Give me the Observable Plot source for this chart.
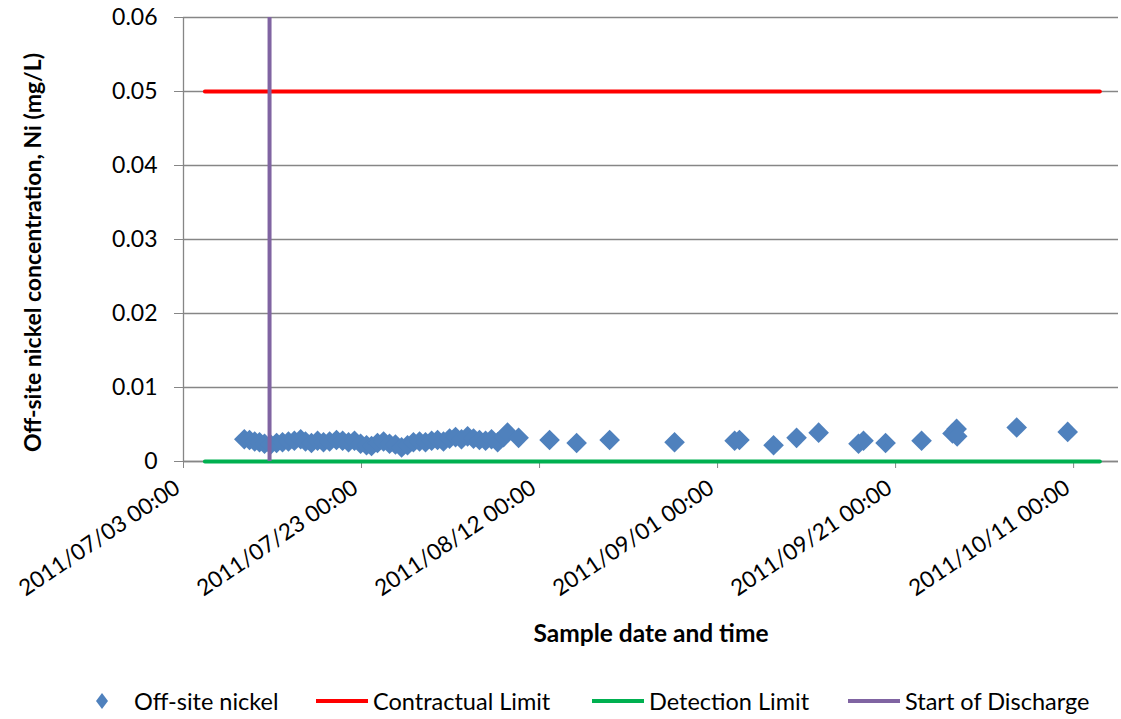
<!DOCTYPE html>
<html>
<head>
<meta charset="utf-8">
<script src="https://cdn.jsdelivr.net/npm/d3@7"></script>
<script src="https://cdn.jsdelivr.net/npm/@observablehq/plot@0.6"></script>
<style>
  body { margin: 0; background: #fff; font-family: Lato, "Open Sans", sans-serif; }
  #legend { position: relative; height: 36px; margin-top: 18px; font-size: 23.5px; color: #000; }
  #legend .item { position: absolute; top: 0; display: flex; align-items: center; height: 36px; white-space: nowrap; }
  #legend svg { margin-right: 4px; }
</style>
</head>
<body>
<div id="chart"></div>
<div id="legend"></div>
<script>
// ---- data ----
const sampleTimes = [
  "2011-07-09T20:00","2011-07-10T10:00","2011-07-11T00:00","2011-07-11T13:00","2011-07-12T02:30",
  "2011-07-12T19:00","2011-07-13T11:00","2011-07-14T03:00","2011-07-14T19:00","2011-07-15T11:00",
  "2011-07-16T04:00","2011-07-16T17:00","2011-07-17T09:00","2011-07-18T01:30","2011-07-18T17:30",
  "2011-07-19T10:00","2011-07-20T04:30","2011-07-20T21:00","2011-07-21T13:00","2011-07-22T05:00",
  "2011-07-22T21:30","2011-07-23T13:30","2011-07-24T03:00","2011-07-24T19:00","2011-07-25T11:30",
  "2011-07-26T03:30","2011-07-26T19:30","2011-07-27T12:00","2011-07-28T04:00","2011-07-28T20:00",
  "2011-07-29T12:30","2011-07-30T04:30","2011-07-30T21:00","2011-07-31T13:00","2011-08-01T05:00",
  "2011-08-01T21:30","2011-08-02T13:30","2011-08-03T05:30","2011-08-03T22:00","2011-08-04T14:00",
  "2011-08-05T06:00","2011-08-05T22:30","2011-08-06T14:30","2011-08-07T07:00","2011-08-07T23:00",
  "2011-08-08T09:30","2011-08-09T15:30","2011-08-13T03:00","2011-08-16T04:00","2011-08-19T21:00",
  "2011-08-27T04:00","2011-09-02T22:00","2011-09-03T11:00","2011-09-07T07:00","2011-09-09T21:00",
  "2011-09-12T08:30","2011-09-16T20:00","2011-09-17T09:30","2011-09-19T21:00","2011-09-23T22:00",
  "2011-09-27T09:30","2011-09-27T20:30","2011-09-27T22:00","2011-10-04T14:30","2011-10-10T08:00"
];
const nickelValues = [
  0.0030,0.0029,0.0027,0.0026,0.0024,
  0.0023,0.0025,0.0026,0.0027,0.0028,
  0.0030,0.0027,0.0025,0.0028,0.0026,
  0.0027,0.0029,0.0028,0.0026,0.0028,
  0.0024,0.0022,0.0021,0.0025,0.0027,
  0.0024,0.0023,0.0019,0.0022,0.0026,
  0.0027,0.0026,0.0028,0.0029,0.0027,
  0.0031,0.0033,0.0030,0.0034,0.0031,
  0.0029,0.0028,0.0030,0.0026,0.0033,
  0.0039,0.0032,0.0029,0.0025,0.0029,
  0.0026,0.0028,0.0029,0.0022,0.0032,
  0.0039,0.0024,0.0028,0.0025,0.0028,
  0.0038,0.0044,0.0034,0.0046,0.0040
];
const contractualLimit = 0.05;
const detectionLimit = 0;
const limitPeriod = ["2011-07-05T11:00", "2011-10-14T00:00"];
const dischargeStart = "2011-07-12T16:00";
const xDomain = ["2011-07-03T00:00", "2011-10-16T01:00"];
const xTicks = ["2011-07-03T00:00","2011-07-23T00:00","2011-08-12T00:00","2011-09-01T00:00","2011-09-21T00:00","2011-10-11T00:00"];
const yTicks = [0, 0.01, 0.02, 0.03, 0.04, 0.05, 0.06];
const legendLabels = ["Off-site nickel", "Contractual Limit", "Detection Limit", "Start of Discharge"];

// ---- build ----
const parse = s => new Date(s);
const data = sampleTimes.map((t, i) => ({date: parse(t), value: nickelValues[i]}));
const pad = n => String(n).padStart(2, "0");
const fmtDate = d => `${d.getFullYear()}/${pad(d.getMonth()+1)}/${pad(d.getDate())} ${pad(d.getHours())}:${pad(d.getMinutes())}`;
const fmtY = v => v === 0 ? "0" : v.toFixed(2);

const gray = "#868686";
const colors = {nickel: "#4f81bd", contractual: "#ff0000", detection: "#00b050", discharge: "#8064a2"};

const chart = Plot.plot({
  width: 1121,
  height: 665,
  marginLeft: 183,
  marginRight: 3,
  marginTop: 17,
  marginBottom: 204,
  style: {fontFamily: "Lato, 'Open Sans', sans-serif", fontSize: "23px", color: "#000", background: "#fff"},
  x: {type: "utc", domain: xDomain.map(parse)},
  y: {domain: [0, 0.06]},
  marks: [
    Plot.gridY(yTicks, {stroke: gray, strokeOpacity: 1, strokeWidth: 1.3}),
    Plot.ruleX([parse(xDomain[0])], {stroke: gray, strokeWidth: 1.3}),
    Plot.ruleY([0], {stroke: gray, strokeWidth: 1.3}),
    Plot.axisY(yTicks, {tickFormat: fmtY, tickSize: 9, tickPadding: 17, stroke: gray, strokeOpacity: 1, fontSize: 23,
      label: "Off-site nickel concentration, Ni (mg/L)", labelAnchor: "center", labelArrow: "none", labelOffset: 162}),
    Plot.axisX(xTicks.map(parse), {tickFormat: fmtDate, tickSize: 7, tickPadding: 17, tickRotate: -34, stroke: gray, strokeOpacity: 1, fontSize: 22.5,
      label: "Sample date and time", labelAnchor: "center", labelArrow: "none", labelOffset: 180}),
    Plot.dot(data, {x: "date", y: "value", symbol: "diamond2", r: 9.3, fill: colors.nickel, stroke: null}),
    Plot.ruleY([contractualLimit], {x1: parse(limitPeriod[0]), x2: parse(limitPeriod[1]), stroke: colors.contractual, strokeWidth: 4, strokeLinecap: "round"}),
    Plot.ruleY([detectionLimit], {x1: parse(limitPeriod[0]), x2: parse(limitPeriod[1]), stroke: colors.detection, strokeWidth: 4, strokeLinecap: "round"}),
    Plot.ruleX([parse(dischargeStart)], {y1: 0, y2: 0.06, stroke: colors.discharge, strokeWidth: 4})
  ]
});
const yl = chart.querySelector("[aria-label='y-axis label']");
if (yl) {
  yl.setAttribute("font-weight", "bold");
  yl.setAttribute("font-size", "23px");
  yl.setAttribute("transform", (yl.getAttribute("transform") || "") + " translate(3,13)");
}
const xl = chart.querySelector("[aria-label='x-axis label']");
if (xl) {
  xl.setAttribute("font-weight", "bold");
  xl.setAttribute("font-size", "24.5px");
}
const xtl = chart.querySelector("[aria-label='x-axis tick label']");
if (xtl) xtl.setAttribute("transform", (xtl.getAttribute("transform") || "") + " translate(-6,0)");
document.getElementById("chart").append(chart);

// ---- legend ----
const legendItems = [
  {label: legendLabels[0], type: "diamond", color: colors.nickel, left: 92},
  {label: legendLabels[1], type: "line", color: colors.contractual, left: 315},
  {label: legendLabels[2], type: "line", color: colors.detection, left: 591},
  {label: legendLabels[3], type: "line", color: colors.discharge, left: 847}
];
const legend = document.getElementById("legend");
for (const it of legendItems) {
  const div = document.createElement("div");
  div.className = "item";
  div.style.left = it.left + "px";
  const sw = it.type === "diamond"
    ? `<svg width="38" height="22"><path d="M10,3 L16,11 L10,19 L4,11 Z" fill="${it.color}"/></svg>`
    : `<svg width="54" height="22"><line x1="1" y1="11" x2="53" y2="11" stroke="${it.color}" stroke-width="4"/></svg>`;
  div.innerHTML = sw + `<span>${it.label}</span>`;
  legend.append(div);
}
</script>
</body>
</html>
